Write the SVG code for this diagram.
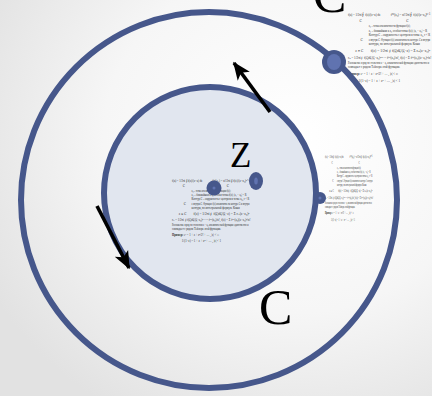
<svg xmlns="http://www.w3.org/2000/svg" width="432" height="396" viewBox="0 0 432 396">
<defs>
<radialGradient id="bg" cx="0.68" cy="0.35" r="0.8">
<stop offset="0" stop-color="#ffffff"/>
<stop offset="0.55" stop-color="#f6f6f6"/>
<stop offset="1" stop-color="#e2e2e2"/>
</radialGradient>
<marker id="ah" viewBox="0 0 12 10" refX="11" refY="5" markerWidth="5" markerHeight="5" markerUnits="strokeWidth" orient="auto">
<path d="M0,0 L12,5 L0,10 L3,5 Z" fill="#000"/>
</marker>
<g id="formula" font-family="'Liberation Serif', 'DejaVu Serif', serif" fill="#2e2e2e" font-size="6.6">
<text x="0" y="12" font-size="9" textLength="62" lengthAdjust="spacingAndGlyphs">f(a) = 1/2πi ∮ f(z)/(z−a) dz</text>
<text x="82" y="12" font-size="9" textLength="76" lengthAdjust="spacingAndGlyphs">f⁽ⁿ⁾(z₀) = n!/2πi ∮ f(z)/(z−z₀)ⁿ⁺¹</text>
<text x="22" y="25">C</text>
<text x="112" y="25">C</text>
<text x="40" y="35" textLength="80" lengthAdjust="spacingAndGlyphs">z₀ – точка аналитичности функции f(z);</text>
<text x="40" y="44" textLength="112" lengthAdjust="spacingAndGlyphs">z₁ – ближайшая к z₀ особая точка f(z);  |z₁ − z₀| = R</text>
<text x="40" y="53" textLength="118" lengthAdjust="spacingAndGlyphs">Контур C – окружность с центром в точке z₀, r &lt; R</text>
<text x="24" y="62">C</text>
<text x="40" y="62" textLength="118" lengthAdjust="spacingAndGlyphs">z внутри C. Функция f(z) аналитична на контуре C и внутри</text>
<text x="40" y="71" textLength="98" lengthAdjust="spacingAndGlyphs">контура, по интегральной формуле Коши</text>
<text x="14" y="84">z ∈ C</text>
<text x="44" y="84" textLength="114" lengthAdjust="spacingAndGlyphs">f(z) = 1/2πi ∮ f(ζ)dζ/(ζ−z) = Σ cₙ(z−z₀)ⁿ</text>
<text x="0" y="98" textLength="160" lengthAdjust="spacingAndGlyphs">cₙ = 1/2πi ∮ f(ζ)dζ/(ζ−z₀)ⁿ⁺¹ = f⁽ⁿ⁾(z₀)/n!,  f(z) = Σ f⁽ⁿ⁾(z₀)(z−z₀)ⁿ/n!</text>
<text x="0" y="109" textLength="156" lengthAdjust="spacingAndGlyphs">Разложение в ряд по степеням z − z₀ аналитической функции единственно и</text>
<text x="0" y="117" textLength="100" lengthAdjust="spacingAndGlyphs">совпадает с рядом Тейлора этой функции.</text>
<text x="0" y="130" textLength="96" lengthAdjust="spacingAndGlyphs"><tspan font-weight="bold">Пример:</tspan> eᶻ = 1 + z + z²/2! + … ,   |z| &lt; ∞</text>
<text x="20" y="144" textLength="80" lengthAdjust="spacingAndGlyphs">1/(1−z) = 1 + z + z² + … ,   |z| &lt; 1</text>
</g>
</defs>
<style>
.ring{fill:none;stroke:#46578b;stroke-width:6}
.dot{fill:#46578b}
.dotin{fill:#6073b0}
.lbl{font-family:'Liberation Serif','DejaVu Serif',serif;fill:#000}
.arr{stroke:#000;stroke-width:3.6;fill:none;marker-end:url(#ah)}
</style>
<rect width="432" height="396" fill="url(#bg)"/>
<g id="text-block-top">
<use href="#formula" transform="translate(348,10) scale(0.52,0.5)"/>
</g>
<g id="text-block-right">
<use href="#formula" transform="translate(325,152) scale(0.3,0.48)"/>
</g>
<g id="outer-circle">
<circle class="ring" cx="209" cy="200" r="188"/>
</g>
<g id="inner-circle">
<circle cx="210" cy="193" r="106" fill="#e1e6ef" stroke="#46578b" stroke-width="6"/>
</g>
<g id="text-block-center">
<use href="#formula" transform="translate(172,176) scale(0.49,0.46)"/>
</g>
<g id="dot-outer">
<circle class="dot" cx="334" cy="62" r="12"/>
<ellipse class="dotin" cx="334" cy="62" rx="7" ry="8"/>
</g>
<g id="dot-center">
<circle class="dot" cx="214" cy="188" r="7.5"/>
<circle class="dotin" cx="214" cy="188" r="1.5"/>
</g>
<g id="dot-z">
<ellipse class="dot" cx="256" cy="181" rx="7" ry="9"/>
<ellipse class="dotin" cx="256" cy="181" rx="1.8" ry="3.5"/>
</g>
<g id="dot-edge">
<circle class="dot" cx="320" cy="198" r="6"/>
<circle class="dotin" cx="320" cy="198" r="1.5"/>
</g>
<g id="connectors">
<line class="arr" x1="270" y1="112" x2="234" y2="63"/>
<line class="arr" x1="97" y1="206" x2="129" y2="268"/>
</g>
<g id="labels">
<text class="lbl" x="230" y="167" font-size="35">Z</text>
<text class="lbl" x="259" y="324" font-size="50">C</text>
<text class="lbl" x="313" y="12" font-size="50">C</text>
</g>
</svg>
